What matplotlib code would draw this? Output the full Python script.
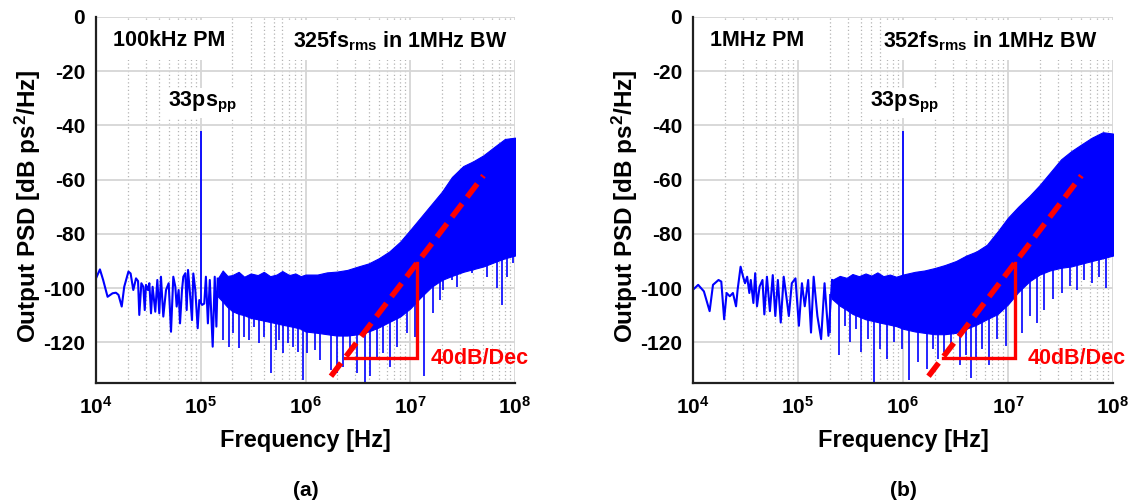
import numpy as np
import matplotlib
matplotlib.use("Agg")
import matplotlib.pyplot as plt
from matplotlib.patches import Rectangle

plt.rcParams['font.family'] = ['Liberation Sans', 'DejaVu Sans']
plt.rcParams['font.weight'] = 'bold'
plt.rcParams['mathtext.fontset'] = 'custom'
plt.rcParams['mathtext.rm'] = 'Liberation Sans:bold'
plt.rcParams['mathtext.it'] = 'Liberation Sans:bold'
plt.rcParams['mathtext.bf'] = 'Liberation Sans:bold'
plt.rcParams['mathtext.sf'] = 'Liberation Sans:bold'

# ---------------------------------------------------------------- data
# (a) 100 kHz phase modulation: sparse low-frequency part of the PSD trace
a_line_f = [1.00e4, 1.09e4, 1.17e4, 1.29e4, 1.44e4, 1.55e4, 1.64e4, 1.76e4, 1.86e4,
            2.04e4, 2.14e4, 2.27e4, 2.41e4, 2.52e4, 2.59e4, 2.71e4, 2.83e4, 2.92e4,
            3.00e4, 3.13e4, 3.23e4, 3.35e4, 3.47e4, 3.68e4, 3.85e4, 4.02e4, 4.17e4,
            4.39e4, 4.66e4, 4.94e4, 5.20e4, 5.47e4, 5.72e4, 5.89e4, 6.15e4, 6.34e4,
            6.62e4, 6.82e4, 7.13e4, 7.34e4, 7.56e4, 7.89e4, 8.25e4, 8.49e4, 8.87e4,
            9.35e4, 9.69e4, 1.03e5, 1.08e5, 1.12e5, 1.17e5, 1.22e5, 1.30e5, 1.36e5,
            1.41e5, 1.45e5]
a_line_db = [-96.4, -93.1, -97.0, -103.2, -101.9, -101.7, -102.5, -106.8, -99.5,
             -93.9, -94.6, -100.7, -96.4, -97.4, -109.9, -98.2, -99.5, -108.1,
             -98.8, -100.7, -98.2, -109.3, -99.5, -108.7, -97.0, -109.3, -95.8,
             -110.5, -100.7, -98.2, -116.1, -95.8, -99.5, -106.8, -100.7, -113.0,
             -100.7, -95.8, -94.5, -108.1, -93.3, -101.9, -111.8, -94.6, -100.7,
             -114.8, -104.4, -106.2, -105.7, -95.8, -113.0, -97.0, -121.6, -95.8,
             -114.2, -96.5]
# (a) dense part of the trace: upper and lower edge of the noise band
a_band_f = [1.45e5, 1.62e5, 1.80e5, 2.0e5, 2.3e5, 2.6e5, 3.0e5, 3.5e5, 4.0e5, 4.6e5,
            5.3e5, 6.0e5, 7.0e5, 8.0e5, 9.0e5, 1.0e6, 1.3e6, 1.6e6, 2.0e6, 2.5e6,
            3.2e6, 4.0e6, 5.0e6, 6.3e6, 8.0e6, 1.0e7, 1.25e7, 1.6e7, 2.0e7, 2.5e7,
            3.2e7, 4.0e7, 5.0e7, 6.3e7, 8.0e7, 1.0e8]
a_band_top = [-96.5, -93.5, -95.5, -95.2, -94.0, -95.8, -94.6, -95.2, -94.0, -95.6,
              -95.0, -93.7, -95.2, -94.6, -95.6, -95.0, -95.0, -94.2, -93.9, -93.3,
              -92.0, -90.9, -89.0, -86.5, -82.9, -78.5, -74.0, -69.0, -64.5, -59.0,
              -55.0, -53.2, -51.0, -48.0, -45.0, -44.5]
a_band_bot = [-103.0, -105.0, -107.0, -108.5, -109.5, -110.0, -111.0, -111.5, -112.0, -112.5,
              -113.0, -113.5, -114.0, -114.5, -115.0, -116.0, -116.5, -117.0, -117.5, -117.5,
              -117.0, -116.0, -114.5, -112.5, -110.5, -107.5, -103.5, -99.5, -97.0, -95.5,
              -94.0, -93.0, -92.0, -90.5, -89.0, -88.0]
# (a) deep downward excursions of the trace
a_dip_f = [1.62e5, 1.88e5, 2.02e5, 2.33e5, 2.61e5, 2.91e5, 3.25e5, 3.63e5, 4.05e5,
           4.69e5, 5.23e5, 5.54e5, 6.05e5, 6.76e5, 7.54e5, 8.41e5, 9.53e5,
           1.03e6, 1.23e6, 1.37e6, 1.77e6, 1.98e6, 2.30e6, 2.65e6, 3.08e6, 3.70e6,
           4.12e6, 4.77e6, 5.53e6, 6.40e6, 7.41e6, 9.23e6, 1.11e7, 1.35e7, 1.66e7,
           1.92e7, 2.07e7, 2.48e7, 2.77e7, 3.21e7, 3.85e7, 4.63e7, 5.35e7, 6.67e7,
           7.45e7, 8.31e7, 9.64e7]
a_dip_db = [-119.1, -121.6, -116.7, -122.2, -117.9, -119.1, -114.2, -120.4, -117.9,
            -131.4, -122.8, -119.1, -124.1, -120.4, -121.6, -123.4, -133.9,
            -124.1, -122.9, -126.5, -130.2, -131.4, -129.0, -124.1, -131.4, -135.0,
            -132.6, -126.5, -124.1, -129.0, -121.6, -116.7, -117.9, -132.6, -109.3,
            -104.4, -100.7, -97.0, -99.5, -94.6, -94.6, -90.9, -95.8, -100.1,
            -106.2, -95.8, -90.9]
a_tone_f, a_tone_db = 1.0e5, -42.0

# (b) 1 MHz phase modulation
b_line_f = [1.00e4, 1.12e4, 1.27e4, 1.44e4, 1.55e4, 1.75e4, 1.86e4, 1.98e4, 2.09e4,
            2.24e4, 2.40e4, 2.57e4, 2.66e4, 2.84e4, 3.00e4, 3.13e4, 3.28e4, 3.44e4,
            3.55e4, 3.76e4, 3.91e4, 4.07e4, 4.31e4, 4.59e4, 4.78e4, 5.06e4, 5.40e4,
            5.75e4, 6.08e4, 6.43e4, 6.85e4, 7.31e4, 7.74e4, 8.18e4, 8.73e4, 9.46e4,
            1.02e5, 1.09e5, 1.16e5, 1.25e5, 1.33e5, 1.41e5, 1.53e5, 1.66e5, 1.79e5,
            1.95e5, 2.11e5]
b_line_db = [-100.6, -98.8, -101.2, -108.5, -98.8, -97.0, -97.6, -111.5, -101.8,
             -103.0, -101.8, -106.7, -100.6, -92.1, -95.8, -98.2, -95.8, -101.8,
             -97.0, -105.5, -94.5, -106.7, -99.4, -97.0, -109.7, -95.8, -108.5,
             -95.2, -110.3, -97.0, -112.7, -95.8, -103.0, -110.3, -98.2, -96.4,
             -113.9, -98.2, -106.7, -97.0, -116.4, -95.8, -110.3, -118.8, -98.2,
             -117.6, -97.0]
b_band_f = [2.11e5, 2.5e5, 2.9e5, 3.3e5, 3.8e5, 4.4e5, 5.0e5, 5.7e5, 6.5e5, 7.5e5,
            8.6e5, 1.0e6, 1.3e6, 1.6e6, 2.0e6, 2.5e6, 3.2e6, 4.0e6, 5.0e6, 6.3e6,
            8.0e6, 1.0e7, 1.25e7, 1.6e7, 2.0e7, 2.5e7, 3.2e7, 4.0e7, 5.0e7, 6.3e7,
            8.0e7, 1.0e8]
b_band_top = [-97.0, -95.5, -96.2, -94.8, -95.6, -94.6, -95.4, -94.2, -95.6, -95.0,
              -95.8, -95.0, -94.0, -93.5, -92.6, -91.5, -90.0, -88.0, -86.5, -84.0,
              -79.0, -74.0, -70.0, -66.0, -62.0, -57.5, -52.5, -49.5, -47.0, -44.5,
              -42.5, -43.0]
b_band_bot = [-104.0, -106.5, -108.0, -109.5, -110.5, -111.5, -112.0, -112.5, -113.0, -113.5,
              -114.0, -115.0, -116.0, -116.5, -117.0, -117.0, -116.5, -115.0, -113.5, -111.5,
              -109.5, -106.0, -101.5, -97.5, -95.0, -93.5, -92.5, -92.0, -91.0, -90.0,
              -89.0, -88.0]
b_dip_f = [2.03e5, 2.48e5, 2.79e5, 3.15e5, 3.55e5, 4.01e5, 4.63e5, 5.31e5, 5.99e5,
           7.03e5, 8.25e5, 9.68e5, 1.14e6, 1.39e6, 1.70e6, 1.91e6, 2.16e6, 2.44e6,
           2.86e6, 3.50e6, 3.95e6, 4.45e6, 5.01e6, 5.66e6, 6.64e6, 7.79e6, 9.52e6,
           1.37e7, 1.61e7, 1.88e7, 2.21e7, 2.70e7, 3.30e7, 3.88e7, 4.56e7, 5.35e7,
           6.28e7, 7.38e7, 8.65e7]
b_dip_db = [-116.4, -124.8, -113.9, -120.0, -115.2, -123.6, -118.8, -134.5, -122.4,
            -126.0, -120.0, -122.4, -133.9, -127.3, -129.7, -122.4, -126.0, -123.6,
            -122.4, -128.5, -124.8, -133.3, -126.0, -122.4, -128.5, -118.8, -121.2,
            -116.4, -110.3, -112.7, -107.9, -104.2, -101.8, -99.4, -100.6, -97.0,
            -98.2, -95.8, -100.0]
b_tone_f, b_tone_db = 1.0e6, -42.0

# 40 dB/dec guide: dashed slope and right triangle
slope_f = [1.75e6, 5.0e7]
slope_db = [-132.5, -58.5]
tri_f = [2.38e6, 1.17e7, 1.17e7]
tri_db = [-125.9, -125.9, -90.6]

x_ticks = [1e4, 1e5, 1e6, 1e7, 1e8]
x_tick_labels = [r'$10^{4}$', r'$10^{5}$', r'$10^{6}$', r'$10^{7}$', r'$10^{8}$']
y_ticks = [0, -20, -40, -60, -80, -100, -120]
y_tick_labels = ['0', '-20', '-40', '-60', '-80', '-100', '-120']

BLUE = '#0000ff'
RED = '#ff0000'

fig = plt.figure(figsize=(11.33, 5.04), dpi=100)
ax_a = fig.add_axes([96 / 1133, 1 - 383 / 504, 419 / 1133, 366 / 504])
ax_b = fig.add_axes([693 / 1133, 1 - 383 / 504, 420 / 1133, 366 / 504])


def draw_panel(ax, line_f, line_db, band_f, band_top, band_bot, dip_f, dip_db,
               tone_f, tone_db, pm_text, jit_text, box1_end, box2_start,
               jit_x, pp_x, caption):
    ax.set_xscale('log')
    ax.set_xlim(1e4, 1e8)
    ax.set_ylim(-135, 0)
    ax.set_axisbelow(True)
    ax.grid(which='major', color='#d6d6d6', lw=1.3, ls='-')
    ax.grid(which='minor', axis='x', color='#b4b4b4', lw=0.9, ls=(0, (1, 2)))
    ax.set_xticks(x_ticks)
    ax.set_xticklabels(x_tick_labels)
    ax.set_yticks(y_ticks)
    ax.set_yticklabels(y_tick_labels)
    ax.tick_params(which='both', length=0)
    ax.tick_params(axis='x', pad=9, labelsize=15)
    ax.tick_params(axis='y', pad=8, labelsize=15)
    for s in ('top', 'right'):
        ax.spines[s].set_visible(False)
    for s in ('left', 'bottom'):
        ax.spines[s].set_linewidth(1.6)
        ax.spines[s].set_color('#202020')

    # white backgrounds behind the header texts
    ax.add_patch(Rectangle((1.02e4, -16.0), box1_end - 1.02e4, 15.0,
                           facecolor='white', edgecolor='none', zorder=1))
    ax.add_patch(Rectangle((box2_start, -16.0), 0.995e8 - box2_start, 15.0,
                           facecolor='white', edgecolor='none', zorder=1))

    lf = np.log10(band_f)
    # noise band
    ax.fill_between(band_f, band_bot, band_top, color=BLUE, lw=0.8,
                    edgecolor=BLUE, zorder=2)
    # sparse low-frequency trace
    ax.plot(line_f + [band_f[0]], line_db + [band_top[0]], color=BLUE, lw=1.5,
            zorder=2)
    # deep dips below the band
    dip_top = np.interp(np.log10(dip_f), lf, band_bot)
    ax.vlines(dip_f, dip_db, dip_top + 2.0, color=BLUE, lw=1.2, zorder=2)
    # modulation tone
    all_f = np.log10(np.array(line_f + band_f))
    all_db = np.array(line_db + band_bot)
    order = np.argsort(all_f)
    base = np.interp(np.log10(tone_f), all_f[order], all_db[order])
    ax.vlines([tone_f], base, tone_db, color=BLUE, lw=1.3, zorder=2)

    # 40 dB/dec guide
    ax.plot(slope_f, slope_db, color=RED, lw=4.0, ls=(0, (3, 1.5)),
            solid_capstyle='butt', dash_capstyle='butt', zorder=4)
    ax.plot(tri_f, tri_db, color=RED, lw=2.4, solid_joinstyle='miter', zorder=4)
    ax.text(1.55e7, -125.8, '40dB/Dec', color=RED, fontsize=15.5,
            fontweight='bold', ha='left', va='center', zorder=5)

    ax.text(1.45e4, -8.8, pm_text, fontsize=15.5, fontweight='bold',
            ha='left', va='center', zorder=5)
    ax.text(jit_x, -8.8, jit_text, fontsize=15.5, fontweight='bold',
            ha='left', va='center', zorder=5)
    ax.text(pp_x, -31.7, r'33ps$_{\mathrm{pp}}$', fontsize=15.5, fontweight='bold',
            ha='left', va='center', zorder=5,
            bbox=dict(facecolor='white', edgecolor='none', pad=2))

    ax.set_xlabel('Frequency [Hz]', fontsize=17, fontweight='bold', va='center')
    ax.xaxis.set_label_coords(0.5, -0.156)
    ax.set_ylabel(r'Output PSD [dB ps$^{\mathrm{2}}$/Hz]', fontsize=17.5,
                  fontweight='bold', va='center')
    ax.yaxis.set_label_coords(-0.163, 0.484)

    pos = ax.get_position()
    fig.text(pos.x0 + pos.width / 2, 1 - 490 / 504, caption, fontsize=15,
             fontweight='bold', ha='center', va='center')


draw_panel(ax_a, a_line_f, a_line_db, a_band_f, a_band_top, a_band_bot,
           a_dip_f, a_dip_db, a_tone_f, a_tone_db,
           '100kHz PM', r'325fs$_{\mathrm{rms}}$ in 1MHz BW', 1.9e5, 6.2e5,
           7.6e5, 4.86e4, '(a)')
draw_panel(ax_b, b_line_f, b_line_db, b_band_f, b_band_top, b_band_bot,
           b_dip_f, b_dip_db, b_tone_f, b_tone_db,
           '1MHz PM', r'352fs$_{\mathrm{rms}}$ in 1MHz BW', 1.5e5, 6.9e5,
           6.4e5, 4.85e5, '(b)')

fig.savefig('out.png', dpi=100)
